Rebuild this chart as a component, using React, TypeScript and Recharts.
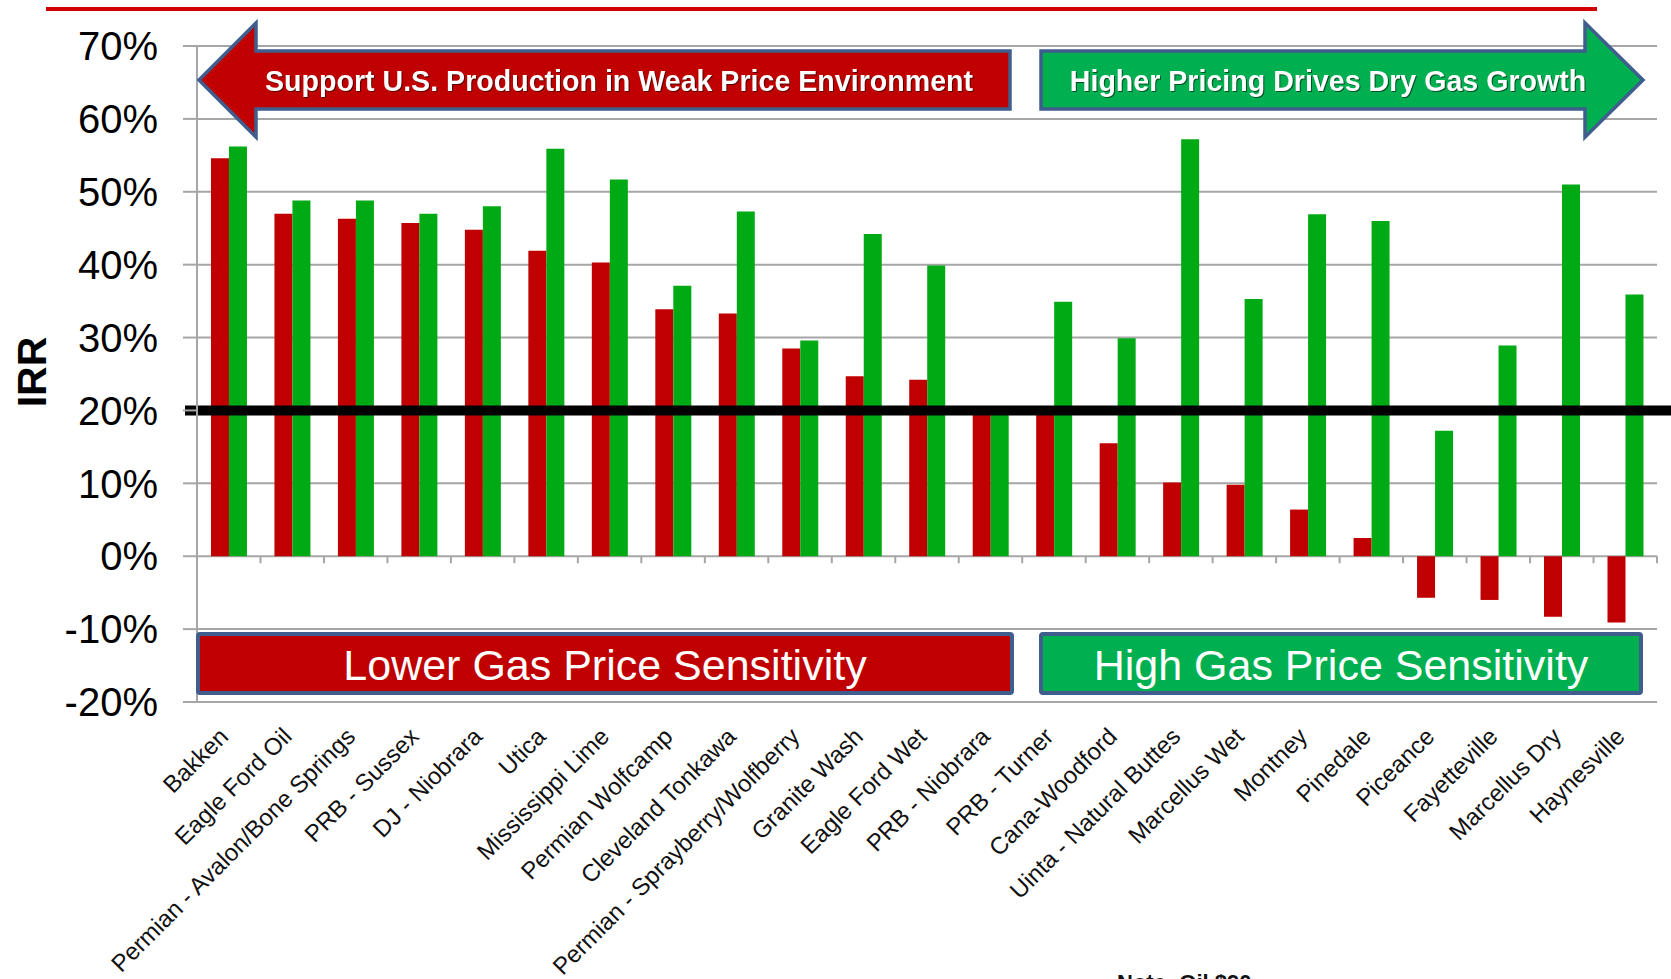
import React from "react";
import {
  BarChart,
  Bar,
  XAxis,
  YAxis,
  CartesianGrid,
  ReferenceLine,
} from "recharts";

const categories = [
  "Bakken",
  "Eagle Ford Oil",
  "Permian - Avalon/Bone Springs",
  "PRB - Sussex",
  "DJ - Niobrara",
  "Utica",
  "Mississippi Lime",
  "Permian Wolfcamp",
  "Cleveland Tonkawa",
  "Permian - Sprayberry/Wolfberry",
  "Granite Wash",
  "Eagle Ford Wet",
  "PRB - Niobrara",
  "PRB - Turner",
  "Cana-Woodford",
  "Uinta - Natural Buttes",
  "Marcellus Wet",
  "Montney",
  "Pinedale",
  "Piceance",
  "Fayetteville",
  "Marcellus Dry",
  "Haynesville",
];

// IRR (%) at the low gas price deck (red) and the high gas price deck (green)
const lowGasIrr = [
  54.6, 47.0, 46.3, 45.7, 44.8, 41.9, 40.3, 33.9, 33.3, 28.5, 24.7, 24.2, 20.2,
  20.2, 15.5, 10.1, 9.8, 6.4, 2.5, -5.7, -6.0, -8.3, -9.1,
];
const highGasIrr = [
  56.2, 48.8, 48.8, 47.0, 48.0, 55.9, 51.7, 37.1, 47.3, 29.6, 44.2, 39.9, 20.0,
  34.9, 29.9, 57.2, 35.3, 46.9, 46.0, 17.2, 28.9, 51.0, 35.9,
];

const yTicks = [-20, -10, 0, 10, 20, 30, 40, 50, 60, 70];
const HURDLE = 20;

const FONT = '"Liberation Sans", Arial, sans-serif';
const RED = "#C00000";
const GREEN_BAR = "#00AA14";
const GREEN_BOX = "#00B050";
const BORDER = "#3F5E8E";
const GRID = "#A6A6A6";

const W = 1671;
const H = 979;
const PLOT_TOP = 46;
const PLOT_LEFT = 197;
const PLOT_RIGHT = 1657;
const PLOT_BOTTOM = 702;
const ZERO_Y =
  PLOT_TOP +
  (yTicks[yTicks.length - 1] / (yTicks[yTicks.length - 1] - yTicks[0])) *
    (PLOT_BOTTOM - PLOT_TOP);
const BAND = (PLOT_RIGHT - PLOT_LEFT) / categories.length;

const data = categories.map((name, i) => ({
  name,
  low: lowGasIrr[i],
  high: highGasIrr[i],
}));

function CategoryTick(props: any) {
  const { x, y, payload } = props;
  const half = payload?.offset ? payload.offset : BAND / 2;
  const tx = x + 1;
  const ty = y + 36;
  return (
    <g>
      <line
        x1={x + half}
        x2={x + half}
        y1={ZERO_Y}
        y2={ZERO_Y + 7}
        stroke={GRID}
        strokeWidth={2}
      />
      <text
        x={tx}
        y={ty}
        transform={`rotate(-45, ${tx}, ${ty})`}
        textAnchor="end"
        fontSize={24}
        fontFamily={FONT}
        fill="#111"
      >
        {payload.value}
      </text>
    </g>
  );
}

function HurdleLine(p: any) {
  return (
    <line
      x1={p.x1 - 12}
      x2={p.x2 + 14}
      y1={p.y1}
      y2={p.y2}
      stroke="#000"
      strokeWidth={10}
    />
  );
}

const shadow = { filter: "drop-shadow(1px 1px 0.5px rgba(0,0,0,0.55))" };

function Annotations() {
  return (
    <svg
      width={W}
      height={H}
      style={{ position: "absolute", left: 0, top: 0, pointerEvents: "none" }}
    >
      <rect x={46} y={7} width={1551} height={4} fill="#D00000" />

      <polygon
        points="199,80 256,23 256,51 1010,51 1010,109 256,109 256,137"
        fill={RED}
        stroke={BORDER}
        strokeWidth={3.5}
        strokeLinejoin="miter"
      />
      <text
        x={619}
        y={81}
        textAnchor="middle"
        dominantBaseline="central"
        fontFamily={FONT}
        fontWeight="bold"
        fontSize={28.6}
        fill="#fff"
        style={shadow}
      >
        Support U.S. Production in Weak Price Environment
      </text>

      <polygon
        points="1041,51 1585,51 1585,23 1643,80 1585,137 1585,109 1041,109"
        fill={GREEN_BOX}
        stroke={BORDER}
        strokeWidth={3.5}
      />
      <text
        x={1328}
        y={81}
        textAnchor="middle"
        dominantBaseline="central"
        fontFamily={FONT}
        fontWeight="bold"
        fontSize={28.6}
        fill="#fff"
        style={shadow}
      >
        Higher Pricing Drives Dry Gas Growth
      </text>

      <rect
        x={198}
        y={634}
        width={814}
        height={59}
        rx={2}
        fill={RED}
        stroke={BORDER}
        strokeWidth={4}
      />
      <text
        x={605}
        y={665}
        textAnchor="middle"
        dominantBaseline="central"
        fontFamily={FONT}
        fontSize={43}
        fill="#fff"
      >
        Lower Gas Price Sensitivity
      </text>

      <rect
        x={1041}
        y={634}
        width={600}
        height={59}
        rx={2}
        fill={GREEN_BOX}
        stroke={BORDER}
        strokeWidth={4}
      />
      <text
        x={1341}
        y={665}
        textAnchor="middle"
        dominantBaseline="central"
        fontFamily={FONT}
        fontSize={43}
        fill="#fff"
      >
        High Gas Price Sensitivity
      </text>

      <text
        x={1117}
        y={990}
        fontFamily={FONT}
        fontWeight="bold"
        fontSize={22}
        fill="#111"
      >
        Note: Oil $90
      </text>
    </svg>
  );
}

export default function App() {
  return (
    <div
      style={{
        position: "absolute",
        left: 0,
        top: 0,
        width: W,
        height: H,
        background: "#fff",
        overflow: "hidden",
        fontFamily: FONT,
      }}
    >
      <BarChart
        width={W}
        height={H}
        data={data}
        margin={{ top: PLOT_TOP, right: W - PLOT_RIGHT, bottom: 7, left: 47 }}
        barCategoryGap="22%"
        barGap={0}
      >
        <CartesianGrid vertical={false} stroke={GRID} strokeWidth={2} />
        <XAxis
          dataKey="name"
          interval={0}
          height={H - 7 - PLOT_BOTTOM}
          axisLine={false}
          tickLine={false}
          tickSize={0}
          tickMargin={0}
          tick={<CategoryTick />}
        />
        <YAxis
          width={150}
          domain={[yTicks[0], yTicks[yTicks.length - 1]]}
          ticks={yTicks}
          interval={0}
          allowDataOverflow
          tickFormatter={(v: number) => `${v}%`}
          axisLine={{ stroke: GRID, strokeWidth: 2 }}
          tickLine={{ stroke: GRID, strokeWidth: 2 }}
          tickSize={14}
          tickMargin={25}
          tick={{ fontSize: 40, fill: "#000", fontFamily: FONT }}
          label={{
            content: () => (
              <text
                x={32}
                y={372}
                transform="rotate(-90, 32, 372)"
                textAnchor="middle"
                dominantBaseline="central"
                fontFamily={FONT}
                fontWeight="bold"
                fontSize={41}
                fill="#000"
              >
                IRR
              </text>
            ),
          }}
        />
        <Bar
          dataKey="low"
          name="Low gas price IRR"
          fill={RED}
          isAnimationActive={false}
        />
        <Bar
          dataKey="high"
          name="High gas price IRR"
          fill={GREEN_BAR}
          isAnimationActive={false}
        />
        <ReferenceLine y={HURDLE} shape={HurdleLine} ifOverflow="visible" />
      </BarChart>
      <Annotations />
    </div>
  );
}
